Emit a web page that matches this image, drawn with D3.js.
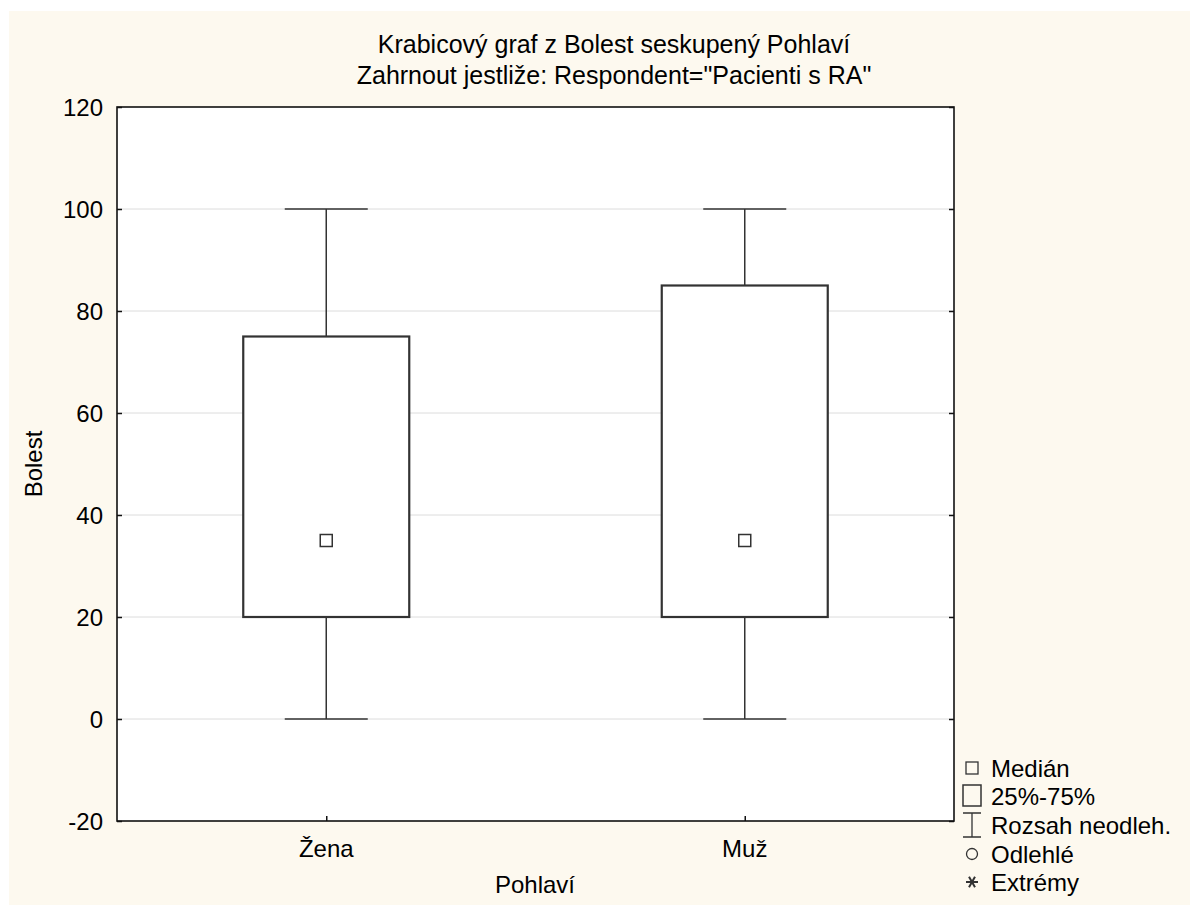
<!DOCTYPE html>
<html>
<head>
<meta charset="utf-8">
<script src="https://cdn.jsdelivr.net/npm/d3@7"></script>
<style>
  html, body { margin: 0; padding: 0; background: #ffffff; }
  svg { display: block; font-family: "Liberation Sans", Arial, sans-serif; }
</style>
</head>
<body>
<div id="chart"></div>
<script>
// --- data ---
const categories = ["Žena", "Muž"];
const whiskerMin = [0, 0];
const q1 = [20, 20];
const medians = [35, 35];
const q3 = [75, 85];
const whiskerMax = [100, 100];
const yTicks = [-20, 0, 20, 40, 60, 80, 100, 120];
const legendLabels = ["Medián", "25%-75%", "Rozsah neodleh.", "Odlehlé", "Extrémy"];

const titleLines = [
  "Krabicový graf z Bolest seskupený Pohlaví",
  "Zahrnout jestliže: Respondent=\"Pacienti s RA\""
];

const W = 1190, H = 905;
const margin = { top: 107, right: 236, bottom: 84, left: 117 };
const ink = "#333333";
const fs = 24;

const svg = d3.select("#chart").append("svg")
  .attr("width", W)
  .attr("height", H);

// cream background with white strip on top/left
svg.append("rect")
  .attr("x", 9).attr("y", 11)
  .attr("width", W - 9).attr("height", H - 11)
  .attr("fill", "#fdf9ef");

const x = d3.scalePoint()
  .domain(categories)
  .range([margin.left, W - margin.right])
  .padding(0.5);

const y = d3.scaleLinear()
  .domain([-20, 120])
  .range([H - margin.bottom, margin.top]);

// plot area
svg.append("rect")
  .attr("x", margin.left).attr("y", margin.top)
  .attr("width", W - margin.right - margin.left)
  .attr("height", H - margin.bottom - margin.top)
  .attr("fill", "#ffffff");

// grid lines
svg.append("g")
  .selectAll("line")
  .data(yTicks.filter(d => d > -20 && d < 120))
  .join("line")
  .attr("x1", margin.left).attr("x2", W - margin.right)
  .attr("y1", d => y(d)).attr("y2", d => y(d))
  .attr("stroke", "#dcdcdc")
  .attr("stroke-width", 1);

// boxes
const rows = categories.map((c, i) => ({
  c, lo: whiskerMin[i], q1: q1[i], med: medians[i], q3: q3[i], hi: whiskerMax[i]
}));
const boxW = 166, capW = 83, medS = 12;

const g = svg.append("g").selectAll("g").data(rows).join("g");

g.append("line")
  .attr("x1", d => x(d.c)).attr("x2", d => x(d.c))
  .attr("y1", d => y(d.hi)).attr("y2", d => y(d.q3))
  .attr("stroke", ink).attr("stroke-width", 1.5);
g.append("line")
  .attr("x1", d => x(d.c)).attr("x2", d => x(d.c))
  .attr("y1", d => y(d.q1)).attr("y2", d => y(d.lo))
  .attr("stroke", ink).attr("stroke-width", 1.5);
g.append("line")
  .attr("x1", d => x(d.c) - capW / 2).attr("x2", d => x(d.c) + capW / 2)
  .attr("y1", d => y(d.hi)).attr("y2", d => y(d.hi))
  .attr("stroke", ink).attr("stroke-width", 1.5);
g.append("line")
  .attr("x1", d => x(d.c) - capW / 2).attr("x2", d => x(d.c) + capW / 2)
  .attr("y1", d => y(d.lo)).attr("y2", d => y(d.lo))
  .attr("stroke", ink).attr("stroke-width", 1.5);
g.append("rect")
  .attr("x", d => x(d.c) - boxW / 2)
  .attr("y", d => y(d.q3))
  .attr("width", boxW)
  .attr("height", d => y(d.q1) - y(d.q3))
  .attr("fill", "#ffffff")
  .attr("stroke", ink).attr("stroke-width", 2.2);
g.append("rect")
  .attr("x", d => x(d.c) - medS / 2)
  .attr("y", d => y(d.med) - medS / 2)
  .attr("width", medS).attr("height", medS)
  .attr("fill", "#ffffff")
  .attr("stroke", ink).attr("stroke-width", 1.5);

// frame
svg.append("rect")
  .attr("x", margin.left).attr("y", margin.top)
  .attr("width", W - margin.right - margin.left)
  .attr("height", H - margin.bottom - margin.top)
  .attr("fill", "none")
  .attr("stroke", "#111").attr("stroke-width", 1.6);

// axes with inward ticks
const yAxis = svg.append("g")
  .attr("transform", `translate(${margin.left},0)`)
  .call(d3.axisRight(y).tickValues(yTicks).tickSize(5).tickFormat(""));
yAxis.select(".domain").remove();
yAxis.selectAll("line").attr("stroke", "#111").attr("stroke-width", 1.5);

const yAxisR = svg.append("g")
  .attr("transform", `translate(${W - margin.right},0)`)
  .call(d3.axisLeft(y).tickValues(yTicks).tickSize(5).tickFormat(""));
yAxisR.select(".domain").remove();
yAxisR.selectAll("line").attr("stroke", "#111").attr("stroke-width", 1.5);

const xAxis = svg.append("g")
  .attr("transform", `translate(0,${H - margin.bottom})`)
  .call(d3.axisTop(x).tickSize(5).tickFormat(""));
xAxis.select(".domain").remove();
xAxis.selectAll("line").attr("stroke", "#111").attr("stroke-width", 1.5);

// tick labels
svg.append("g").selectAll("text")
  .data(yTicks)
  .join("text")
  .attr("x", 103)
  .attr("y", d => y(d) + 8.5)
  .attr("text-anchor", "end")
  .attr("font-size", fs)
  .attr("fill", "#000")
  .text(d => d);

svg.append("g").selectAll("text")
  .data(categories)
  .join("text")
  .attr("x", d => x(d))
  .attr("y", 857)
  .attr("text-anchor", "middle")
  .attr("font-size", fs)
  .attr("fill", "#000")
  .text(d => d);

// titles
svg.append("g").selectAll("text")
  .data(titleLines)
  .join("text")
  .attr("x", 614)
  .attr("y", (d, i) => 53 + i * 31)
  .attr("text-anchor", "middle")
  .attr("font-size", 25)
  .attr("fill", "#000")
  .text(d => d);

svg.append("text")
  .attr("x", 535).attr("y", 893)
  .attr("text-anchor", "middle")
  .attr("font-size", fs)
  .text("Pohlaví");

svg.append("text")
  .attr("transform", "translate(42,464) rotate(-90)")
  .attr("text-anchor", "middle")
  .attr("font-size", fs)
  .text("Bolest");

// legend
const legY = [768, 796, 825, 854, 882];
const lg = svg.append("g").selectAll("g")
  .data(legendLabels)
  .join("g")
  .attr("transform", (d, i) => `translate(972,${legY[i]})`);

lg.append("text")
  .attr("x", 19).attr("y", 9)
  .attr("font-size", fs)
  .text(d => d);

lg.each(function (d, i) {
  const s = d3.select(this);
  if (i === 0) {
    s.append("rect").attr("x", -6).attr("y", -6).attr("width", 12).attr("height", 12)
      .attr("fill", "none").attr("stroke", ink).attr("stroke-width", 1.3);
  } else if (i === 1) {
    s.append("rect").attr("x", -9).attr("y", -11).attr("width", 18).attr("height", 21)
      .attr("fill", "none").attr("stroke", ink).attr("stroke-width", 1.5);
  } else if (i === 2) {
    s.append("path").attr("d", "M-9,-12H9M0,-12V12M-9,12H9")
      .attr("fill", "none").attr("stroke", ink).attr("stroke-width", 1.3);
  } else if (i === 3) {
    s.append("circle").attr("r", 5.5)
      .attr("fill", "none").attr("stroke", ink).attr("stroke-width", 1.3);
  } else {
    s.append("path").attr("d", "M-6,0H6M-3,-5.2L3,5.2M-3,5.2L3,-5.2")
      .attr("fill", "none").attr("stroke", ink).attr("stroke-width", 2);
  }
});
</script>
</body>
</html>
